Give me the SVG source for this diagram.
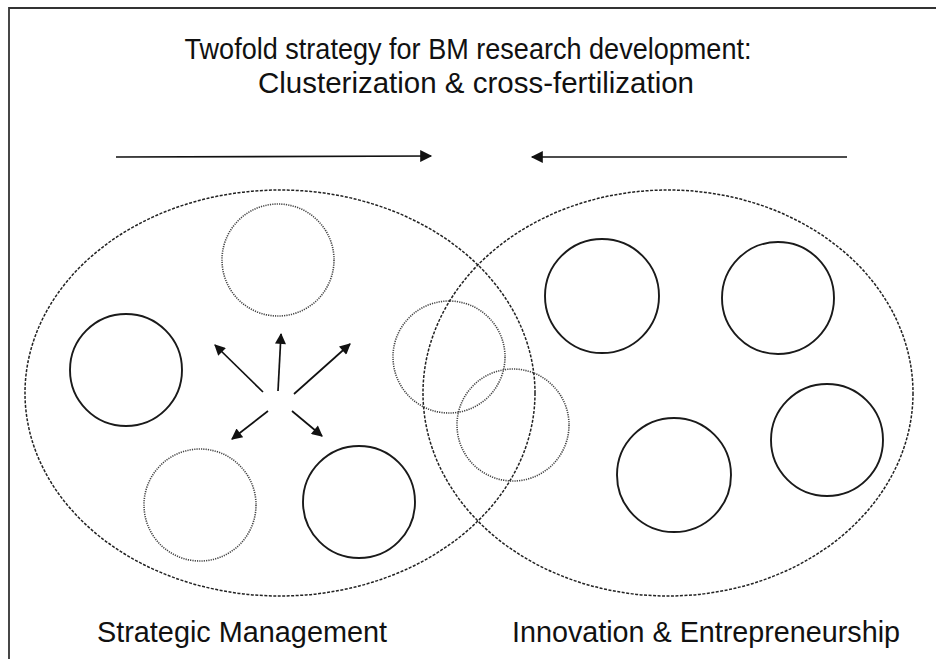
<svg xmlns="http://www.w3.org/2000/svg" width="936" height="659" viewBox="0 0 936 659">
<style>
.frame{fill:none;stroke:#333;stroke-width:1.8}
.big{fill:none;stroke:#222;stroke-width:1.5;stroke-dasharray:3 1.5}
.dot{fill:none;stroke:#444;stroke-width:1.6;stroke-dasharray:1.2 1.1}
.solid{fill:none;stroke:#1a1a1a;stroke-width:1.9}
.arr{fill:none;stroke:#111;stroke-width:1.7}
.t{font-family:"Liberation Sans",Arial,Helvetica,sans-serif;font-size:29px;fill:#111;text-anchor:middle}
</style>
<defs>
<marker id="ah" viewBox="0 0 10 10" refX="9" refY="5" markerWidth="13" markerHeight="11" markerUnits="userSpaceOnUse" orient="auto">
<path d="M0,0 L10,5 L0,10 z" fill="#111"/>
</marker>
<marker id="ah2" viewBox="0 0 10 10" refX="9" refY="5" markerWidth="13" markerHeight="12" markerUnits="userSpaceOnUse" orient="auto">
<path d="M0,0 L10,5 L0,10 z" fill="#111"/>
</marker>
</defs>
<rect width="936" height="659" fill="#fff"/>
<path class="frame" d="M9,660 L9,8 L937,8"/>
<g id="title">
<text class="t" x="468" y="59" textLength="567" lengthAdjust="spacingAndGlyphs">Twofold strategy for BM research development:</text>
<text class="t" x="476" y="93" textLength="436" lengthAdjust="spacingAndGlyphs">Clusterization &amp; cross-fertilization</text>
</g>
<g id="strategic-management">
<ellipse class="big" cx="280" cy="393" rx="255" ry="203"/>
<text class="t" x="242" y="642" textLength="290" lengthAdjust="spacingAndGlyphs">Strategic Management</text>
</g>
<g id="innovation-entrepreneurship">
<ellipse class="big" cx="668" cy="393" rx="245" ry="203"/>
<text class="t" x="706" y="642" textLength="388" lengthAdjust="spacingAndGlyphs">Innovation &amp; Entrepreneurship</text>
</g>
<g id="sm-top"><circle class="dot" cx="278" cy="260" r="56"/></g>
<g id="sm-left"><circle class="solid" cx="126" cy="370" r="56"/></g>
<g id="sm-bottom-left"><circle class="dot" cx="200" cy="505" r="56"/></g>
<g id="sm-bottom-right"><circle class="solid" cx="359" cy="502" r="56"/></g>
<g id="overlap-1"><circle class="dot" cx="449" cy="357" r="56"/></g>
<g id="overlap-2"><circle class="dot" cx="513" cy="425" r="56"/></g>
<g id="ie-1"><circle class="solid" cx="602" cy="296" r="57"/></g>
<g id="ie-2"><circle class="solid" cx="778" cy="298" r="56"/></g>
<g id="ie-3"><circle class="solid" cx="674" cy="475" r="57"/></g>
<g id="ie-4"><circle class="solid" cx="827" cy="440" r="56"/></g>
<g id="connectors">
<line class="arr" x1="116" y1="157" x2="431" y2="156" marker-end="url(#ah2)"/>
<line class="arr" x1="847" y1="157" x2="532" y2="157" marker-end="url(#ah2)"/>
<line class="arr" x1="263" y1="392" x2="215" y2="345" marker-end="url(#ah)"/>
<line class="arr" x1="278" y1="391" x2="281" y2="334" marker-end="url(#ah)"/>
<line class="arr" x1="294" y1="394" x2="350" y2="344" marker-end="url(#ah)"/>
<line class="arr" x1="268" y1="411" x2="232" y2="439" marker-end="url(#ah)"/>
<line class="arr" x1="292" y1="411" x2="322" y2="436" marker-end="url(#ah)"/>
</g>
</svg>
